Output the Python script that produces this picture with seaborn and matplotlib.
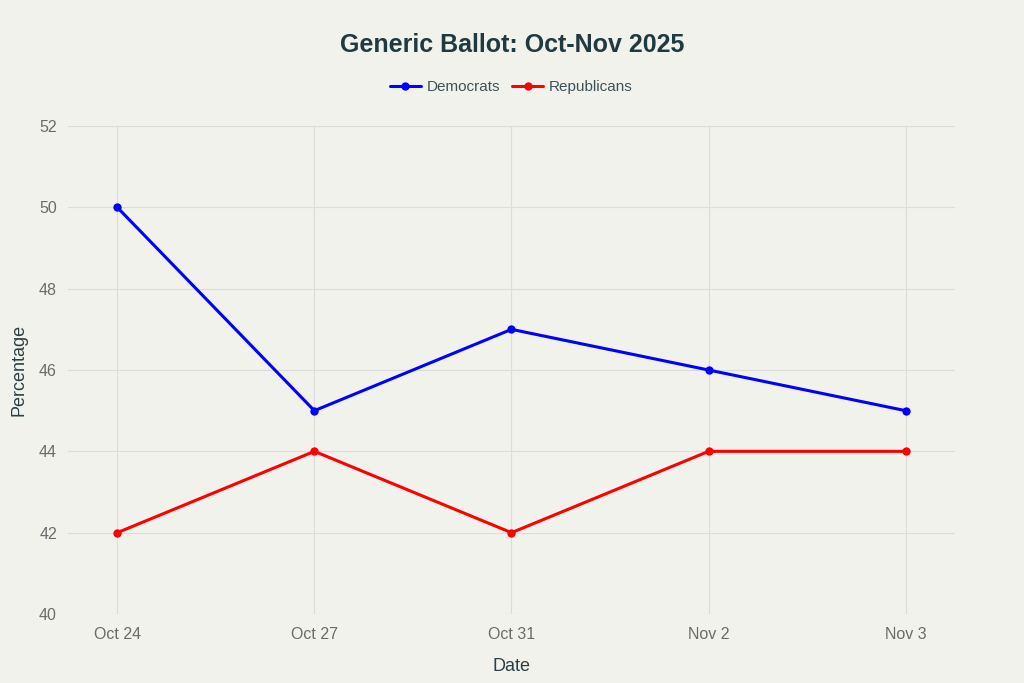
import matplotlib
matplotlib.use("Agg")
import matplotlib.pyplot as plt
import seaborn as sns
import pandas as pd

dates = ["Oct 24", "Oct 27", "Oct 31", "Nov 2", "Nov 3"]
democrats = [50, 45, 47, 46, 45]
republicans = [42, 44, 42, 44, 44]

df = pd.DataFrame({
    "Date": dates * 2,
    "Percentage": democrats + republicans,
    "Party": ["Democrats"] * len(dates) + ["Republicans"] * len(dates),
})

bg = "#f2f2ed"
sns.set_theme(style="white")
plt.rcParams["font.family"] = ["Liberation Sans", "DejaVu Sans"]

fig = plt.figure(figsize=(10.24, 6.83), dpi=100, facecolor=bg)
ax = fig.add_axes([0.0664, 0.101, 0.8662, 0.7145])
ax.set_facecolor(bg)

sns.lineplot(
    data=df, x="Date", y="Percentage", hue="Party",
    palette={"Democrats": "#0000ff", "Republicans": "#ff0000"},
    marker="o", markersize=6, markeredgewidth=0, linewidth=2.2,
    sort=False, ax=ax,
)

ax.set_xlim(-0.25, 4.25)
ax.set_ylim(40, 52)
ax.set_yticks(range(40, 53, 2))
ax.grid(True, color="#dcdcd8", linewidth=0.8)
ax.set_axisbelow(True)
for s in ax.spines.values():
    s.set_visible(False)
ax.tick_params(axis="both", length=5, color="#dcdcd8", labelcolor="#6b6b6b", labelsize=11.5)
ax.tick_params(axis="x", pad=4)
ax.tick_params(axis="y", pad=3)

ax.set_xlabel("Date", fontsize=13, color="#2a3f45", labelpad=12)
ax.set_ylabel("Percentage", fontsize=13, color="#2a3f45", labelpad=8)

fig.suptitle("Generic Ballot: Oct-Nov 2025", fontsize=18, fontweight="bold",
             color="#1f3a40", y=0.952)

leg = ax.legend(loc="center", bbox_to_anchor=(0.5, 1.08), ncol=2, frameon=False,
                fontsize=11, handlelength=2.0, columnspacing=0.8, handletextpad=0.4)
for t in leg.get_texts():
    t.set_color("#3e5258")

fig.savefig("out.png", dpi=100, facecolor=bg)
